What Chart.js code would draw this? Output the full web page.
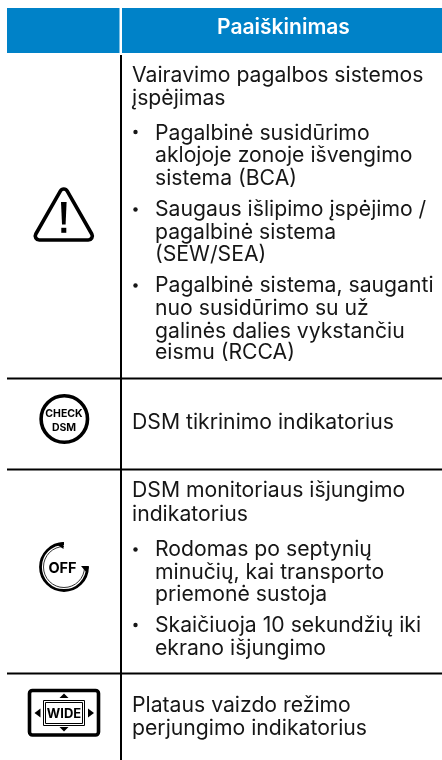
<!DOCTYPE html>
<html lang="lt">
<head>
<meta charset="utf-8">
<title>Paaiškinimas</title>
<script src="https://cdn.jsdelivr.net/npm/chart.js@4"></script>
<style>
  html, body { margin: 0; padding: 0; background: #fff; }
  canvas { display: block; }
</style>
</head>
<body>
<canvas id="legendTable" width="442" height="760"></canvas>
<script>
const headerTitle = 'Paaiškinimas';
const plainLines = [
  'Vairavimo pagalbos sistemos', 'įspėjimas',
  'DSM tikrinimo indikatorius',
  'DSM monitoriaus išjungimo', 'indikatorius',
  'Plataus vaizdo režimo', 'perjungimo indikatorius'
];
const plainBaselines = [81.5, 105, 429, 497, 520.5, 711.5, 735];
const bulletLines = [
  'Pagalbinė susidūrimo', 'aklojoje zonoje išvengimo', 'sistema (BCA)',
  'Saugaus išlipimo įspėjimo /', 'pagalbinė sistema', '(SEW/SEA)',
  'Pagalbinė sistema, sauganti', 'nuo susidūrimo su už', 'galinės dalies vykstančiu', 'eismu (RCCA)',
  'Rodomas po septynių', 'minučių, kai transporto', 'priemonė sustoja',
  'Skaičiuoja 10 sekundžių iki', 'ekrano išjungimo'
];
const bulletBaselines = [139.5, 162, 185, 216, 238.5, 261, 291.5, 315, 337.5, 359, 556, 578.5, 601, 632, 655];
const bulletDots = [132, 209.5, 285.5, 549.5, 625];
const rowRules = [378.5, 469.5, 673.5];

const bodyFont = 'Inter, sans-serif';
const ink = '#161616';

// draws the table cells and the four icons, all through the page scales
const tablePlugin = {
  id: 'tablePlugin',
  afterDatasetsDraw(chart) {
    const { ctx, scales } = chart;
    const X = v => scales.x.getPixelForValue(v);
    const Y = v => scales.y.getPixelForValue(v);

    ctx.save();
    ctx.fillStyle = '#0082c8';
    ctx.fillRect(X(7), Y(8), X(119.5) - X(7), Y(53) - Y(8));
    ctx.fillRect(X(122), Y(8), X(442) - X(122), Y(53) - Y(8));

    ctx.fillStyle = '#fff';
    ctx.font = '600 21px ' + bodyFont;
    ctx.textAlign = 'center';
    ctx.textBaseline = 'alphabetic';
    ctx.fillText(headerTitle, X(283.5), Y(33.5));

    ctx.fillStyle = ink;
    ctx.textAlign = 'left';
    ctx.font = '400 21.2px ' + bodyFont;
    plainLines.forEach((line, i) => ctx.fillText(line, X(132), Y(plainBaselines[i])));
    bulletLines.forEach((line, i) => ctx.fillText(line, X(155), Y(bulletBaselines[i])));
    bulletDots.forEach(y => {
      ctx.beginPath();
      ctx.arc(X(135.5), Y(y), 2.2, 0, Math.PI * 2);
      ctx.fill();
    });

    drawWarning(ctx, X, Y);
    drawCheck(ctx, X, Y);
    drawOff(ctx, X, Y);
    drawWide(ctx, X, Y);
    ctx.restore();
  }
};

function drawWarning(ctx, X, Y) {
  ctx.strokeStyle = '#000';
  ctx.fillStyle = '#000';
  ctx.lineWidth = 3.6;
  ctx.lineJoin = 'round';
  ctx.beginPath();
  ctx.moveTo(X(63.8), Y(240));
  ctx.arcTo(X(95.2), Y(240), X(63.8), Y(185), 4);
  ctx.arcTo(X(63.8), Y(185), X(32.4), Y(240), 4);
  ctx.arcTo(X(32.4), Y(240), X(63.8), Y(240), 4);
  ctx.closePath();
  ctx.stroke();
  ctx.beginPath();
  ctx.moveTo(X(61), Y(202));
  ctx.lineTo(X(66.6), Y(202));
  ctx.lineTo(X(65.6), Y(224.5));
  ctx.lineTo(X(62), Y(224.5));
  ctx.closePath();
  ctx.fill();
  ctx.fillRect(X(61.3), Y(227.8), 5, 5);
}

function drawCheck(ctx, X, Y) {
  ctx.strokeStyle = '#000';
  ctx.fillStyle = '#000';
  ctx.lineWidth = 3.6;
  ctx.beginPath();
  ctx.arc(X(64.3), Y(419), 23.2, 0, Math.PI * 2);
  ctx.stroke();
  ctx.textAlign = 'center';
  ctx.font = '700 10.5px Inter, sans-serif';
  ctx.fillText('CHECK', X(64), Y(417));
  ctx.fillText('DSM', X(64), Y(431));
}

function drawOff(ctx, X, Y) {
  ctx.strokeStyle = '#000';
  ctx.fillStyle = '#000';
  ctx.lineWidth = 2.8;
  ctx.beginPath();
  ctx.arc(X(64), Y(567), 23.5, -Math.PI / 2, 0, true);
  ctx.stroke();
  ctx.lineWidth = 0.8;
  ctx.beginPath();
  ctx.arc(X(64), Y(567), 20.5, -Math.PI / 2, 0, true);
  ctx.stroke();
  ctx.beginPath();
  ctx.moveTo(X(63.5), Y(542));
  ctx.lineTo(X(63.5), Y(549));
  ctx.lineTo(X(56), Y(544));
  ctx.closePath();
  ctx.fill();
  ctx.beginPath();
  ctx.moveTo(X(81), Y(566));
  ctx.lineTo(X(89), Y(566));
  ctx.lineTo(X(87), Y(573));
  ctx.closePath();
  ctx.fill();
  ctx.textAlign = 'center';
  ctx.font = '700 14.5px Inter, sans-serif';
  ctx.fillText('OFF', X(62.5), Y(572.5));
}

function drawWide(ctx, X, Y) {
  ctx.strokeStyle = '#000';
  ctx.fillStyle = '#000';
  ctx.lineWidth = 3.6;
  ctx.beginPath();
  ctx.roundRect(X(29.5), Y(690.5), 69, 44.5, 3);
  ctx.stroke();
  ctx.lineWidth = 1;
  ctx.strokeRect(X(43.5), Y(700.5), 41, 25);
  ctx.strokeRect(X(45.5), Y(702.5), 37, 21);
  const tri = (a, b, c, d, e, f) => {
    ctx.beginPath();
    ctx.moveTo(X(a), Y(b));
    ctx.lineTo(X(c), Y(d));
    ctx.lineTo(X(e), Y(f));
    ctx.closePath();
    ctx.fill();
  };
  tri(64, 693.5, 59.5, 698, 68.5, 698);
  tri(64, 731.5, 59.5, 727, 68.5, 727);
  tri(34.5, 713, 40.5, 708.5, 40.5, 717.5);
  tri(94, 713, 88, 708.5, 88, 717.5);
  ctx.textAlign = 'center';
  ctx.font = '700 13px Inter, sans-serif';
  ctx.fillText('WIDE', X(64), Y(717.8));
}

const ruleLine = data => ({
  data,
  showLine: true,
  borderColor: '#000',
  borderWidth: 2,
  pointRadius: 0,
  clip: false
});

new Chart(document.getElementById('legendTable').getContext('2d'), {
  type: 'scatter',
  data: {
    datasets: [
      ruleLine([{ x: 121, y: 55 }, { x: 121, y: 760 }]),
      ...rowRules.map(y => ruleLine([{ x: 7, y }, { x: 442, y }]))
    ]
  },
  options: {
    responsive: false,
    animation: false,
    layout: { padding: 0 },
    plugins: { legend: { display: false }, tooltip: { enabled: false } },
    scales: {
      x: { type: 'linear', min: 0, max: 442, display: false },
      y: { type: 'linear', min: 0, max: 760, reverse: true, display: false }
    }
  },
  plugins: [tablePlugin]
});
</script>
</body>
</html>
